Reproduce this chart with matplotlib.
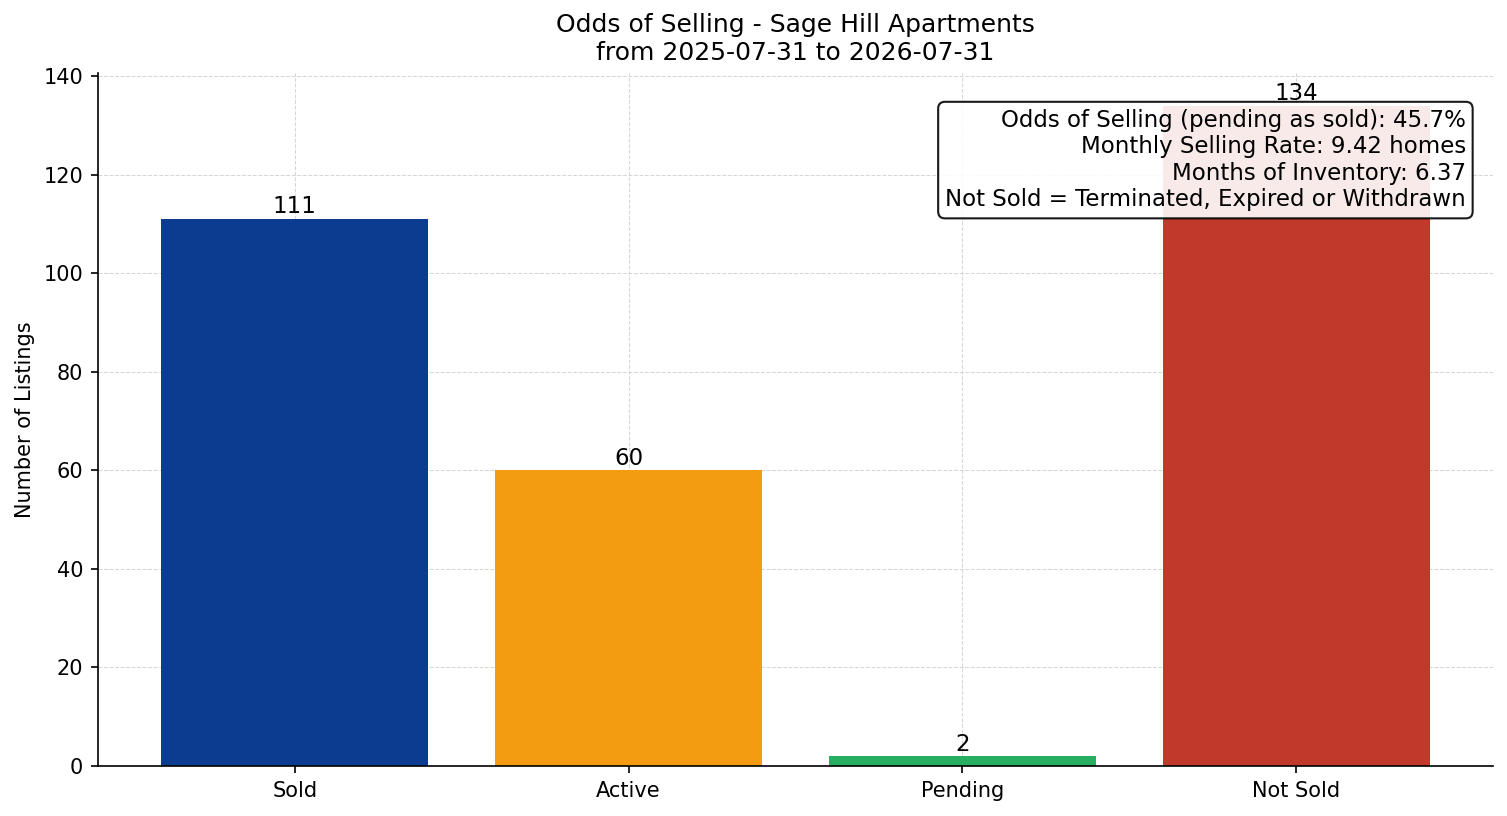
import matplotlib
matplotlib.use("Agg")
import matplotlib.pyplot as plt

# dados do gráfico
categories = ["Sold", "Active", "Pending", "Not Sold"]
counts = [111, 60, 2, 134]
bar_colors = ["#0b3c8f", "#f39c12", "#27ae60", "#c0392b"]
stats_lines = [
    "Odds of Selling (pending as sold): 45.7%",
    "Monthly Selling Rate: 9.42 homes",
    "Months of Inventory: 6.37",
    "Not Sold = Terminated, Expired or Withdrawn",
]

fig, ax = plt.subplots(figsize=(1507 / 150, 816 / 150), dpi=150)
bars = ax.bar(categories, counts, color=bar_colors, width=0.8, zorder=2)

for b, v in zip(bars, counts):
    ax.text(b.get_x() + b.get_width() / 2, v + 0.1, str(v),
            ha="center", va="bottom", fontsize=11, zorder=5)

ax.set_ylim(0, max(counts) * 1.05)
ax.set_ylabel("Number of Listings", fontsize=10)
ax.set_title("Odds of Selling - Sage Hill Apartments\nfrom 2025-07-31 to 2026-07-31",
             fontsize=12)
ax.tick_params(axis="both", labelsize=10)
ax.grid(True, linestyle="--", linewidth=0.5, color="#cccccc", alpha=0.8, zorder=3)
ax.spines["top"].set_visible(False)
ax.spines["right"].set_visible(False)

ax.text(0.9805, 0.948, "\n".join(stats_lines), transform=ax.transAxes,
        ha="right", va="top", fontsize=11, zorder=4,
        bbox=dict(boxstyle="round,pad=0.3", facecolor="white", alpha=0.9,
                  edgecolor="black", linewidth=1.0))

plt.subplots_adjust(left=0.065, right=0.9907, top=0.911, bottom=0.0613)
plt.savefig("out.png", dpi=150)
